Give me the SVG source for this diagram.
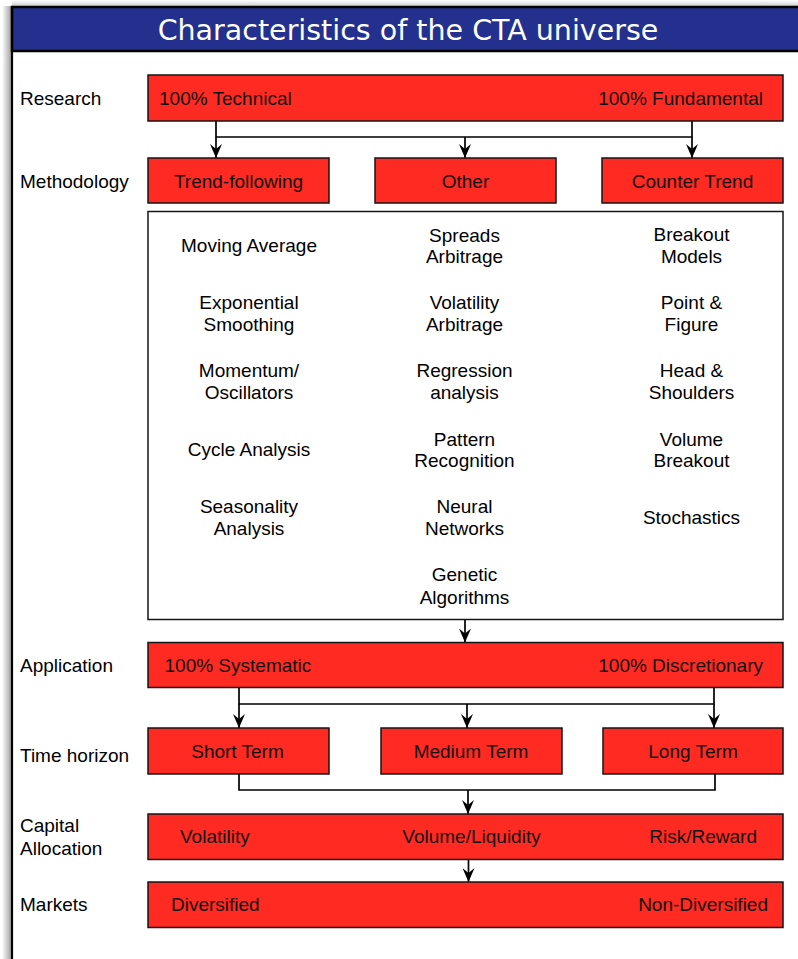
<svg xmlns="http://www.w3.org/2000/svg" width="798" height="959" viewBox="0 0 798 959">
  <defs>
    <linearGradient id="shL" x1="0" y1="0" x2="1" y2="0">
      <stop offset="0" stop-color="#ffffff"/>
      <stop offset="1" stop-color="#9a9a9a"/>
    </linearGradient>
    <linearGradient id="shT" x1="0" y1="0" x2="0" y2="1">
      <stop offset="0" stop-color="#ffffff"/>
      <stop offset="1" stop-color="#c8c8c8"/>
    </linearGradient>
    <marker id="arr" viewBox="0 0 14 12" refX="14" refY="6" markerWidth="14" markerHeight="12" markerUnits="userSpaceOnUse" orient="auto">
      <path d="M0,0 L14,6 L0,12 L5,6 Z" fill="#000"/>
    </marker>
    <style>
      .lbl { font-family: "Liberation Sans", Arial, sans-serif; font-size: 19px; fill: #000; }
      .bt { font-family: "Liberation Sans", Arial, sans-serif; font-size: 19px; fill: #111; }
      .it { font-family: "Liberation Sans", Arial, sans-serif; font-size: 19px; fill: #000; text-anchor: middle; }
      .mid { text-anchor: middle; }
      .end { text-anchor: end; }
      .red { fill: #ff2a22; stroke: #151515; stroke-width: 1.5; }
      .wbox { fill: #ffffff; stroke: #151515; stroke-width: 1.5; }
      .con { fill: none; stroke: #000; stroke-width: 1.7; }
      .arrow { fill: none; stroke: #000; stroke-width: 1.7; marker-end: url(#arr); }
    </style>
  </defs>

  <rect x="0" y="0" width="798" height="959" fill="#ffffff"/>

  <!-- frame shadow -->
  <rect x="2" y="6" width="10" height="953" fill="url(#shL)"/>
  <rect x="12" y="0" width="786" height="7" fill="url(#shT)"/>

  <!-- header -->
  <g id="header">
    <rect x="12" y="7" width="800" height="44" fill="#23308e" stroke="#000" stroke-width="2.5"/>
    <text x="408" y="40" text-anchor="middle" font-family="'DejaVu Sans', Verdana, sans-serif" font-size="28.5" fill="#ffffff">Characteristics of the CTA universe</text>
  </g>
  <line x1="12" y1="7" x2="12" y2="959" stroke="#000" stroke-width="2.2"/>

  <!-- row labels -->
  <g id="labels">
    <text class="lbl" x="20" y="105">Research</text>
    <text class="lbl" x="20" y="187.5">Methodology</text>
    <text class="lbl" x="20" y="672">Application</text>
    <text class="lbl" x="20" y="761.5">Time horizon</text>
    <text class="lbl" x="20" y="832">Capital</text>
    <text class="lbl" x="20" y="855">Allocation</text>
    <text class="lbl" x="20" y="910.5">Markets</text>
  </g>

  <!-- connectors -->
  <g id="connectors">
    <polyline class="con" points="216,121 216,137 692,137 692,121"/>
    <line class="arrow" x1="216" y1="137" x2="216" y2="158"/>
    <line class="arrow" x1="465" y1="137" x2="465" y2="158"/>
    <line class="arrow" x1="692" y1="137" x2="692" y2="158"/>

    <line class="arrow" x1="465" y1="620" x2="465" y2="642.5"/>

    <polyline class="con" points="239,688 239,704 714,704 714,688"/>
    <line class="arrow" x1="239" y1="704" x2="239" y2="728"/>
    <line class="arrow" x1="467" y1="704" x2="467" y2="728"/>
    <line class="arrow" x1="714" y1="704" x2="714" y2="728"/>

    <polyline class="con" points="239,774 239,790 715,790 715,774"/>
    <line class="arrow" x1="468" y1="790" x2="468" y2="814"/>
    <line class="arrow" x1="468.5" y1="859.5" x2="468.5" y2="882"/>
  </g>

  <!-- Research -->
  <g id="research">
    <rect class="red" x="148" y="75" width="635" height="46"/>
    <text class="bt" x="159" y="105">100% Technical</text>
    <text class="bt end" x="763" y="105">100% Fundamental</text>
  </g>

  <!-- Methodology -->
  <g id="trend-following">
    <rect class="red" x="148" y="158" width="181" height="45"/>
    <text class="bt mid" x="238.5" y="187.5">Trend-following</text>
  </g>
  <g id="other">
    <rect class="red" x="375" y="158" width="181" height="45"/>
    <text class="bt mid" x="465.5" y="187.5">Other</text>
  </g>
  <g id="counter-trend">
    <rect class="red" x="602" y="158" width="181" height="45"/>
    <text class="bt mid" x="692.5" y="187.5">Counter Trend</text>
  </g>

  <!-- Techniques box -->
  <g id="techniques">
    <rect class="wbox" x="148" y="211.5" width="635" height="408"/>
    <!-- left column -->
    <text class="it" x="249" y="252">Moving Average</text>
    <text class="it" x="249" y="309">Exponential</text>
    <text class="it" x="249" y="331">Smoothing</text>
    <text class="it" x="249" y="377">Momentum/</text>
    <text class="it" x="249" y="398.5">Oscillators</text>
    <text class="it" x="249" y="456">Cycle Analysis</text>
    <text class="it" x="249" y="513">Seasonality</text>
    <text class="it" x="249" y="535">Analysis</text>
    <!-- middle column -->
    <text class="it" x="464.5" y="241.5">Spreads</text>
    <text class="it" x="464.5" y="263">Arbitrage</text>
    <text class="it" x="464.5" y="309">Volatility</text>
    <text class="it" x="464.5" y="331">Arbitrage</text>
    <text class="it" x="464.5" y="377">Regression</text>
    <text class="it" x="464.5" y="398.5">analysis</text>
    <text class="it" x="464.5" y="445.5">Pattern</text>
    <text class="it" x="464.5" y="467">Recognition</text>
    <text class="it" x="464.5" y="513">Neural</text>
    <text class="it" x="464.5" y="535">Networks</text>
    <text class="it" x="464.5" y="581">Genetic</text>
    <text class="it" x="464.5" y="603.5">Algorithms</text>
    <!-- right column -->
    <text class="it" x="691.5" y="241">Breakout</text>
    <text class="it" x="691.5" y="263">Models</text>
    <text class="it" x="691.5" y="309">Point &amp;</text>
    <text class="it" x="691.5" y="331">Figure</text>
    <text class="it" x="691.5" y="377">Head &amp;</text>
    <text class="it" x="691.5" y="398.5">Shoulders</text>
    <text class="it" x="691.5" y="445.5">Volume</text>
    <text class="it" x="691.5" y="467">Breakout</text>
    <text class="it" x="691.5" y="523.5">Stochastics</text>
  </g>

  <!-- Application -->
  <g id="application">
    <rect class="red" x="148" y="642.5" width="635" height="45"/>
    <text class="bt" x="164.5" y="672">100% Systematic</text>
    <text class="bt end" x="763" y="672">100% Discretionary</text>
  </g>

  <!-- Time horizon -->
  <g id="short-term">
    <rect class="red" x="148" y="728" width="181" height="46"/>
    <text class="bt mid" x="237.5" y="757.5">Short Term</text>
  </g>
  <g id="medium-term">
    <rect class="red" x="381" y="728" width="181" height="46"/>
    <text class="bt mid" x="471" y="757.5">Medium Term</text>
  </g>
  <g id="long-term">
    <rect class="red" x="603" y="728" width="180" height="46"/>
    <text class="bt mid" x="693" y="757.5">Long Term</text>
  </g>

  <!-- Capital Allocation -->
  <g id="capital-allocation">
    <rect class="red" x="148" y="814" width="635" height="45.5"/>
    <text class="bt" x="180" y="843">Volatility</text>
    <text class="bt mid" x="471.5" y="843">Volume/Liquidity</text>
    <text class="bt end" x="757" y="843">Risk/Reward</text>
  </g>

  <!-- Markets -->
  <g id="markets">
    <rect class="red" x="148" y="882" width="635" height="45.5"/>
    <text class="bt" x="171" y="911">Diversified</text>
    <text class="bt end" x="768" y="911">Non-Diversified</text>
  </g>
</svg>
